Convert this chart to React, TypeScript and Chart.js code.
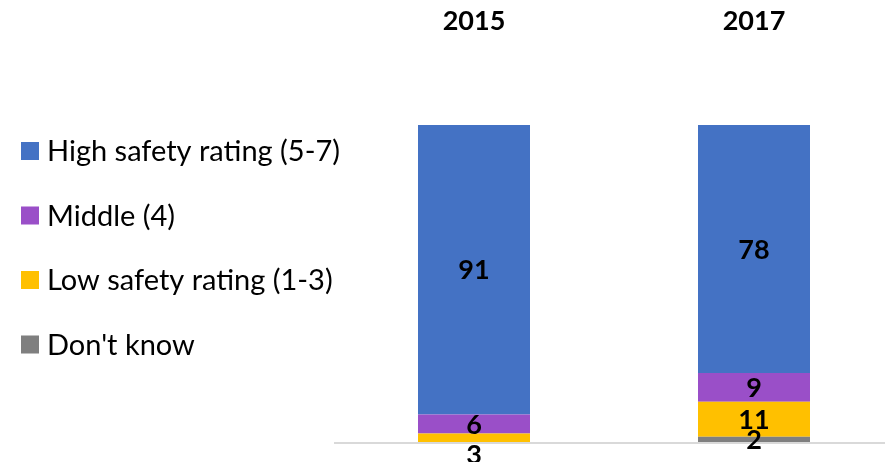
import React, { useEffect, useRef } from "react";
import { Chart, registerables } from "chart.js";

Chart.register(...registerables);

const categories = ["2015", "2017"];
const seriesNames = ["Don't know", "Low safety rating (1-3)", "Middle (4)", "High safety rating (5-7)"];
const dontKnow = [0, 2];
const lowRating = [3, 11];
const middleRating = [6, 9];
const highRating = [91, 78];
const seriesColors = ["#7F7F7F", "#FFC000", "#9A4FC8", "#4472C4"];
const yTicks = [0, 100];

const FONT = "Lato, 'Open Sans', sans-serif";

const legendPlugin = {
  id: "leftLegend",
  afterDraw(chart: any) {
    const ctx = chart.ctx;
    const ds = chart.data.datasets;
    ctx.save();
    ctx.font = `29px ${FONT}`;
    ctx.textBaseline = "middle";
    ctx.textAlign = "left";
    const order = ds.map((_: any, i: number) => i).reverse();
    order.forEach((di: number, k: number) => {
      const yc = 151 + k * 64.5;
      ctx.fillStyle = ds[di].backgroundColor;
      ctx.fillRect(21, yc - 9, 18, 18);
      ctx.fillStyle = "#000000";
      ctx.fillText(ds[di].label, 47, yc + 1);
    });
    ctx.restore();
  },
};

const valueLabelPlugin = {
  id: "valueLabels",
  afterDatasetsDraw(chart: any) {
    const ctx = chart.ctx;
    const ds = chart.data.datasets;
    ctx.save();
    ctx.font = `bold 27px ${FONT}`;
    ctx.textAlign = "center";
    ctx.textBaseline = "middle";
    ctx.fillStyle = "#000000";
    chart.data.labels.forEach((_: any, ci: number) => {
      const items: { x: number; y: number; v: number }[] = [];
      for (let di = ds.length - 1; di >= 0; di--) {
        const v = ds[di].data[ci];
        if (!v) continue;
        const el = chart.getDatasetMeta(di).data[ci];
        items.push({ x: el.x, y: (el.y + el.base) / 2, v });
      }
      for (let i = 1; i < items.length; i++) {
        if (items[i].y - items[i - 1].y < 16) items[i].y = items[i - 1].y + 30;
      }
      items.forEach((it) => ctx.fillText(String(it.v), it.x, it.y + 1));
    });
    ctx.restore();
  },
};

export default function App() {
  const ref = useRef<HTMLCanvasElement>(null);
  useEffect(() => {
    if (!ref.current) return;
    const values = [dontKnow, lowRating, middleRating, highRating];
    const chart = new Chart(ref.current, {
      type: "bar",
      data: {
        labels: categories,
        datasets: values.map((d, i) => ({
          label: seriesNames[i],
          data: d,
          backgroundColor: seriesColors[i],
          borderWidth: 0,
          categoryPercentage: 1,
          barPercentage: 0.4,
        })),
      },
      options: {
        responsive: false,
        animation: false,
        layout: { padding: { left: 334, top: 6, bottom: 19, right: 0 } },
        plugins: { legend: { display: false }, tooltip: { enabled: false } },
        scales: {
          x: {
            position: "top",
            stacked: true,
            grid: { display: false, drawTicks: false },
            border: { display: false },
            ticks: { font: { family: FONT, size: 27, weight: "bold" }, color: "#000000", padding: 88 },
            afterFit: (scale: any) => {
              scale.height = 119;
            },
          },
          y: {
            stacked: true,
            min: yTicks[0],
            max: yTicks[1],
            grid: {
              drawTicks: false,
              lineWidth: 2,
              color: (c: any) => (c.tick && c.tick.value === 0 ? "#D9D9D9" : "rgba(0,0,0,0)"),
            },
            border: { display: false },
            ticks: { display: false, stepSize: 100 },
          },
        },
      },
      plugins: [legendPlugin, valueLabelPlugin],
    });
    return () => chart.destroy();
  }, []);
  return (
    <div style={{ position: "absolute", left: 0, top: 0, width: 885, height: 462, overflow: "hidden", background: "#fff" }}>
      <canvas ref={ref} width={894} height={462} />
    </div>
  );
}
